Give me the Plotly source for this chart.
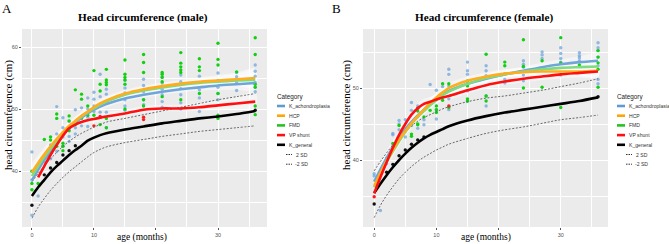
import plotly.graph_objects as go

W, H = 669, 244

AGES = [0, 1, 2, 3, 4, 5, 6, 7, 8, 9, 10, 11, 12, 15, 18, 21, 24, 27, 30, 33, 36]

# ---------------- male smooth curves ----------------
M_KACH = [38.5, 40.2, 41.8, 43.2, 44.5, 45.8, 46.9, 47.8, 48.6, 49.3, 49.9, 50.4, 50.8, 51.7, 52.3, 52.8, 53.2, 53.5, 53.8, 54.0, 54.2]
M_HCP = [39.8, 41.3, 42.7, 44.0, 45.2, 46.3, 47.3, 48.1, 48.9, 49.6, 50.3, 50.9, 51.4, 52.5, 53.2, 53.7, 54.1, 54.4, 54.6, 54.8, 55.0]
M_FMD = [39.2, 40.8, 42.3, 43.6, 44.9, 46.1, 47.1, 48.0, 48.8, 49.5, 50.1, 50.7, 51.2, 52.3, 53.0, 53.5, 53.9, 54.2, 54.4, 54.6, 54.7]
M_VP_AGES = [1, 2, 3, 4, 5, 6, 7, 8, 9, 10, 11, 12, 15, 18, 21, 24, 27, 30, 33, 36]
M_VP = [39.0, 40.8, 42.6, 44.2, 45.7, 46.9, 47.5, 47.9, 48.2, 48.4, 48.6, 48.8, 49.3, 49.9, 50.1, 50.1, 50.3, 50.6, 50.9, 51.2]
M_KGEN = [36.0, 37.4, 38.6, 39.8, 40.8, 41.7, 42.6, 43.4, 44.1, 44.9, 45.4, 45.8, 46.1, 46.7, 47.2, 47.7, 48.1, 48.5, 48.8, 49.2, 49.7]
M_P2SD = [38.3, 39.6, 40.9, 42.0, 43.0, 44.0, 44.8, 45.5, 46.1, 46.6, 47.1, 47.5, 47.9, 48.5, 49.1, 49.7, 50.3, 50.9, 51.5, 52.0, 52.5]
M_M2SD = [32.4, 34.2, 35.6, 36.9, 38.0, 39.0, 39.9, 40.7, 41.5, 42.3, 43.0, 43.5, 43.9, 44.6, 45.1, 45.6, 46.0, 46.4, 46.7, 47.0, 47.3]
M_SE = [1.6, 1.3, 1.1, 1.0, 0.9, 0.8, 0.8, 0.7, 0.7, 0.7, 0.7, 0.7, 0.7, 0.6, 0.6, 0.6, 0.6, 0.7, 0.9, 1.1, 1.5]

# ---------------- female smooth curves ----------------
F_KACH = [37.0, 38.7, 40.3, 41.8, 43.1, 44.3, 45.3, 46.2, 47.0, 47.8, 48.5, 49.1, 49.6, 50.6, 51.3, 51.9, 52.4, 52.9, 53.3, 53.6, 53.8]
F_HCP = [36.4, 38.2, 39.9, 41.4, 42.8, 44.0, 45.1, 46.1, 47.0, 47.9, 48.7, 49.4, 50.0, 51.0, 51.6, 52.0, 52.2, 52.3, 52.3, 52.3, 52.4]
F_FMD = [36.2, 38.0, 39.7, 41.2, 42.6, 43.9, 45.0, 46.0, 46.8, 47.6, 48.3, 49.0, 49.5, 50.6, 51.4, 51.9, 52.3, 52.6, 52.8, 52.9, 53.0]
F_VP = [35.4, 37.6, 39.7, 41.7, 43.5, 45.0, 46.3, 47.2, 47.8, 48.1, 48.4, 48.7, 48.9, 49.7, 50.4, 50.9, 51.3, 51.6, 51.9, 52.1, 52.3]
F_KGEN = [35.4, 36.7, 37.9, 39.0, 40.0, 40.9, 41.7, 42.4, 43.0, 43.5, 43.9, 44.3, 44.7, 45.5, 46.1, 46.6, 47.0, 47.4, 47.8, 48.2, 48.7]
F_P2SD = [38.5, 39.8, 41.0, 42.1, 43.1, 43.9, 44.7, 45.4, 45.9, 46.3, 46.7, 47.1, 47.4, 48.1, 48.6, 48.9, 49.3, 49.7, 50.2, 50.7, 51.3]
F_M2SD = [32.0, 33.7, 35.1, 36.3, 37.4, 38.3, 39.1, 39.8, 40.4, 40.9, 41.4, 41.8, 42.2, 43.0, 43.7, 44.2, 44.6, 45.1, 45.6, 45.9, 46.25]
F_SE = [1.3, 1.1, 1.0, 0.9, 0.8, 0.8, 0.7, 0.7, 0.7, 0.7, 0.7, 0.7, 0.7, 0.6, 0.6, 0.6, 0.6, 0.6, 0.7, 0.8, 1.0]

# ---------------- male observed points ----------------
M_PTS_KACH = {0: [43.1, 32.9, 38.6], 1: [36.0], 2: [41.5, 42.3], 3: [43.5, 42.0, 44.2],
              4: [50.4, 46.0, 44.5, 43.2], 5: [48.6, 47.0, 45.5, 44.0], 6: [48.0, 46.8, 45.6, 44.8],
              7: [49.9, 47.0, 46.0], 8: [50.2, 48.8, 47.3], 9: [51.8, 50.0, 48.7, 47.2],
              10: [52.7, 51.6, 50.5, 49.6], 11: [55.6, 52.0, 50.8, 49.5], 12: [53.2, 52.4, 51.0, 49.5, 47.0],
              15: [54.6, 53.4, 52.6, 51.5, 50.5, 49.8], 18: [54.8, 53.8, 52.8, 51.5, 50.7],
              21: [55.2, 54.2, 53.2, 52.3, 51.2, 50.3], 24: [55.5, 54.4, 53.3, 52.3, 51.0, 50.0],
              27: [55.3, 54.3, 53.1, 51.8, 49.6], 30: [55.8, 54.6, 53.5, 52.5, 51.5],
              33: [55.9, 55.2, 54.3, 53.0], 36: [57.1, 56.1, 55.3, 54.3, 53.6, 52.8]}
M_PTS_FMD = {0: [40.0, 38.0, 37.0], 1: [38.0], 2: [45.1], 3: [45.5, 45.0, 43.0], 4: [49.2, 48.5, 44.0],
             5: [44.5, 44.0, 43.3], 6: [48.9, 48.1, 46.5], 7: [53.1, 47.5], 8: [52.4, 51.6, 48.5],
             9: [50.5, 49.0], 10: [56.2, 49.0], 11: [54.0, 52.9, 47.5],
             12: [56.4, 54.7, 54.3, 53.9, 47.0, 48.5], 15: [57.9, 55.6, 55.1, 54.7, 54.0, 50.0],
             18: [58.8, 57.5, 55.9, 51.5, 50.5], 21: [55.9, 55.6, 55.1, 54.4, 52.0],
             24: [59.1, 57.4, 56.8, 56.3, 55.9, 51.5], 27: [58.1, 56.8, 56.2, 52.5],
             30: [60.6, 58.0, 57.1, 52.5, 49.0, 48.5], 33: [56.0], 36: [61.5, 58.8, 54.0, 53.5, 50.5, 49.1]}
M_PTS_VP = {10: [47.3], 11: [48.8], 18: [48.7, 48.3]}
M_PTS_KGEN = {0: [34.5], 2: [39.4], 3: [40.5], 4: [41.4], 5: [42.6], 6: [43.3], 7: [44.1], 36: [49.8]}

# ---------------- female observed points ----------------
F_PTS_KACH = {0: [38.1, 37.8], 1: [33.0], 2: [39.5, 40.3], 3: [43.7, 43.5, 42.0], 4: [45.5, 45.0, 44.2],
              5: [45.6, 44.0, 43.2], 6: [48.0, 46.9, 44.8], 7: [47.5, 46.0, 44.4], 8: [46.9, 45.6, 44.9],
              9: [50.5, 47.8], 10: [49.7, 47.0, 45.7], 11: [50.2, 48.8], 12: [52.6, 51.9, 50.3, 48.5, 47.0],
              15: [53.6, 52.4, 51.9, 49.6, 48.2], 18: [53.1, 52.4, 51.7, 48.9, 47.5], 21: [52.0, 51.2, 50.7],
              24: [53.8, 53.3, 52.9, 51.8, 51.0], 27: [55.0, 54.6, 54.1, 52.6], 30: [55.6, 54.8, 54.1, 53.6, 51.8],
              33: [54.9, 54.5, 54.2, 53.8], 36: [56.3, 55.6, 55.2, 54.3, 53.1, 51.2, 50.6]}
F_PTS_FMD = {3: [42.3], 4: [44.8], 6: [45.0, 43.6, 43.3], 7: [46.8, 45.0, 44.9], 8: [46.0], 9: [46.9],
             10: [47.5, 47.0, 46.6], 11: [50.6, 48.3], 12: [50.6, 47.3], 15: [51.0, 50.6, 50.3, 48.5, 48.2],
             18: [54.7, 48.9, 48.2], 21: [53.6, 53.1], 24: [56.7, 53.0, 50.0], 27: [53.8, 52.7, 50.1],
             30: [57.0, 53.5, 47.3], 33: [53.2], 36: [55.2, 54.3, 53.5, 52.6, 50.1]}
F_PTS_VP = {0: [34.9], 7: [47.2], 12: [47.5]}
F_PTS_KGEN = {0: [33.9], 2: [38.3], 3: [39.4], 4: [40.6], 5: [41.4], 6: [42.2], 7: [42.8], 8: [43.2], 36: [48.8]}

CATEGORIES = ["K_achondroplasia", "HCP", "FMD", "VP shunt", "K_general"]
SD_LABELS = ["2 SD", "-2 SD"]
X_TICKS = [0, 10, 20, 30]
X_TICKTEXT = ["0", "10", "", "30"]   # the "20" label is hidden behind the axis title in the source
M_Y_TICKS = [40, 50, 60]
F_Y_TICKS = [40, 50]

COL = {"K_achondroplasia": "#5E9BD3", "HCP": "#FFA500", "FMD": "#22C422",
       "VP shunt": "#FF1010", "K_general": "#000000"}
LINE_COL = {"K_achondroplasia": "#6FA5D8", "HCP": "#FFAD1F", "FMD": "#7FDB7F",
            "VP shunt": "#FF1010", "K_general": "#000000"}
PT_COL = {"K_achondroplasia": "rgba(110,165,220,0.75)", "HCP": "#FFA500", "FMD": "#11D011",
          "VP shunt": "#FF1A1A", "K_general": "#111111"}

fig = go.Figure()


def flatten(d):
    xs, ys = [], []
    for a, vals in d.items():
        for v in vals:
            xs.append(a)
            ys.append(v)
    return xs, ys


def add_panel(xa, ya, curves, se, pts, sd_p, sd_m):
    # confidence ribbons
    for name in ["K_achondroplasia", "HCP", "FMD", "VP shunt"]:
        ages, vals = curves[name]
        s = se[-len(vals):]
        up = [v + e for v, e in zip(vals, s)]
        lo = [v - e * 0.8 for v, e in zip(vals, s)]
        fig.add_trace(go.Scatter(x=list(ages) + list(ages)[::-1], y=up + lo[::-1], fill="toself",
                                 fillcolor="rgba(255,255,255,0.45)", line=dict(width=0, shape="spline"),
                                 mode="lines", xaxis=xa, yaxis=ya, showlegend=False, hoverinfo="skip"))
    # points
    for name in ["K_achondroplasia", "FMD", "VP shunt", "K_general"]:
        if name not in pts:
            continue
        xs, ys = flatten(pts[name])
        fig.add_trace(go.Scatter(x=xs, y=ys, mode="markers", xaxis=xa, yaxis=ya,
                                 marker=dict(size=3.4, color=PT_COL[name], line=dict(width=0)),
                                 showlegend=False))
    # SD dotted
    for vals in (sd_p, sd_m):
        fig.add_trace(go.Scatter(x=AGES, y=vals, mode="lines", xaxis=xa, yaxis=ya,
                                 line=dict(color="#666666", width=1, dash="2px,1.6px", shape="spline"),
                                 showlegend=False))
    # smooth lines
    for name in ["K_general", "K_achondroplasia", "FMD", "HCP", "VP shunt"]:
        ages, vals = curves[name]
        fig.add_trace(go.Scatter(x=ages, y=vals, mode="lines", xaxis=xa, yaxis=ya,
                                 line=dict(color=LINE_COL[name], width=2.6, shape="spline", smoothing=0.6),
                                 showlegend=False))


add_panel("x", "y",
          {"K_achondroplasia": (AGES, M_KACH), "HCP": (AGES, M_HCP), "FMD": (AGES, M_FMD),
           "VP shunt": (M_VP_AGES, M_VP), "K_general": (AGES, M_KGEN)},
          M_SE,
          {"K_achondroplasia": M_PTS_KACH, "FMD": M_PTS_FMD, "VP shunt": M_PTS_VP, "K_general": M_PTS_KGEN},
          M_P2SD, M_M2SD)
add_panel("x2", "y2",
          {"K_achondroplasia": (AGES, F_KACH), "HCP": (AGES, F_HCP), "FMD": (AGES, F_FMD),
           "VP shunt": (AGES, F_VP), "K_general": (AGES, F_KGEN)},
          F_SE,
          {"K_achondroplasia": F_PTS_KACH, "FMD": F_PTS_FMD, "VP shunt": F_PTS_VP, "K_general": F_PTS_KGEN},
          F_P2SD, F_M2SD)


def px(x):
    return x / W


def py(y):
    return 1 - y / H


def axis_common(domain, rng, tickvals, ticktext, minor_vals):
    return dict(domain=domain, range=rng, tickvals=tickvals, ticktext=ticktext,
                ticks="outside", ticklen=2, tickwidth=0.6, tickcolor="#555555",
                tickfont=dict(size=5.5, color="#555555", family="Liberation Sans"),
                showgrid=True, gridcolor="white", gridwidth=1, zeroline=False, showline=False,
                minor=dict(tickvals=minor_vals, showgrid=True, gridcolor="white", gridwidth=0.5, ticks=""),
                fixedrange=True)


PANEL_Y = [py(227), py(29)]
fig.update_layout(
    width=W, height=H, margin=dict(l=0, r=0, t=0, b=0),
    paper_bgcolor="white", plot_bgcolor="#EBEBEB", showlegend=False,
    xaxis=dict(**axis_common([px(22), px(267)], [-1.6, 37.9], X_TICKS, X_TICKTEXT, [5, 15, 25, 35]), anchor="y"),
    yaxis=dict(**axis_common(PANEL_Y, [31.0, 62.9], M_Y_TICKS, [str(v) for v in M_Y_TICKS], [35, 45, 55]), anchor="x"),
    xaxis2=dict(**axis_common([px(363), px(608)], [-1.8, 37.6], X_TICKS, X_TICKTEXT, [5, 15, 25, 35]), anchor="y2"),
    yaxis2=dict(**axis_common(PANEL_Y, [30.7, 58.2], F_Y_TICKS, [str(v) for v in F_Y_TICKS], [35, 45, 55]), anchor="x2"),
)

ann = []
shapes = []
SERIF = "Liberation Serif"


def text(x, y, s, size, family="Liberation Sans", color="#222222", xanchor="left", angle=0, bold=False):
    ann.append(dict(x=px(x), y=py(y), xref="paper", yref="paper", text=("<b>%s</b>" % s) if bold else s,
                    showarrow=False, xanchor=xanchor, yanchor="middle", textangle=angle, borderpad=0,
                    font=dict(size=size, family=family, color=color)))


# panel letters, titles, axis titles
text(1, 8, "A", 13, SERIF, "#000000")
text(331, 8, "B", 13, SERIF, "#000000")
text(143, 18, "Head circumference (male)", 11.2, SERIF, "#000000", "center", bold=True)
text(484, 18, "Head circumference (female)", 11.2, SERIF, "#000000", "center", bold=True)
text(142, 237.5, "age (months)", 9.5, SERIF, "#000000", "center")
text(486, 237.5, "age (months)", 9.5, SERIF, "#000000", "center")
text(8, 115, "head circumference (cm)", 11, SERIF, "#000000", "center", angle=-90)
text(346, 115, "head circumference (cm)", 11, SERIF, "#000000", "center", angle=-90)

# legends (one per panel)
for off in (0, 340):
    text(276 + off, 97, "Category", 6.3, color="#222222")
    for i, name in enumerate(CATEGORIES):
        yy = 106 + i * 9.7
        shapes.append(dict(type="line", xref="paper", yref="paper", x0=px(277 + off), x1=px(285 + off),
                           y0=py(yy), y1=py(yy), line=dict(color=COL[name], width=2.6)))
        text(288 + off, yy, name, 5.1, color="#333333")
    for j, lab in enumerate(SD_LABELS):
        yy = 106 + (5 + j) * 9.7
        shapes.append(dict(type="line", xref="paper", yref="paper", x0=px(286 + off), x1=px(292 + off),
                           y0=py(yy), y1=py(yy), line=dict(color="#333333", width=1, dash="1.5px,1px")))
        text(295 + off if j == 0 else 293.5 + off, yy, lab, 5.1, color="#333333")

fig.update_layout(annotations=ann, shapes=shapes)
fig.write_html("out.html", config={"displayModeBar": False},
               post_script="document.body.style.margin='0px';document.body.style.overflow='hidden';")
